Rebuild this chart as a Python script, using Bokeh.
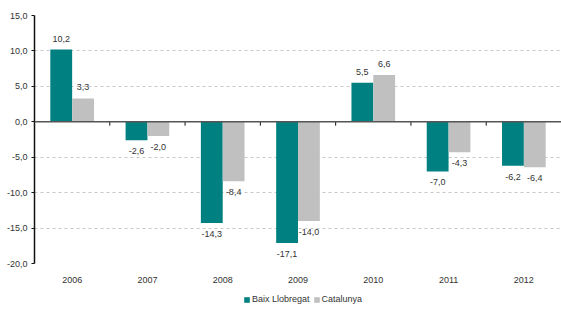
from bokeh.plotting import figure
from bokeh.layouts import column
from bokeh.core.properties import value
from bokeh.models import (ColumnDataSource, FixedTicker, LinearAxis, Legend, LegendItem,
                          Span, Range1d, LabelSet)
from bokeh.embed import file_html
from bokeh.resources import INLINE

years = ["2006", "2007", "2008", "2009", "2010", "2011", "2012"]
baix = [10.2, -2.6, -14.3, -17.1, 5.5, -7.0, -6.2]
catalunya = [3.3, -2.0, -8.4, -14.0, 6.6, -4.3, -6.4]
y_ticks = [-20, -15, -10, -5, 0, 5, 10, 15]
series_names = ["Baix Llobregat", "Catalunya"]

TEAL = "#008080"
GRAY = "#c0c0c0"
FONT = "Liberation Sans"
FS = "9px"
TXT = "#333333"

def fmt(v):
    return ("%.1f" % v).replace(".", ",")

n = len(years)
w = 0.29
centers = [i + 0.5 for i in range(n)]
bounds = list(range(1, n))

src_b = ColumnDataSource(dict(x=[c - w / 2 for c in centers], top=baix,
                              lab=[fmt(v) for v in baix],
                              off=[11 if v >= 0 else -11 for v in baix]))
src_c = ColumnDataSource(dict(x=[c + w / 2 for c in centers], top=catalunya,
                              lab=[fmt(v) for v in catalunya],
                              off=[11 if v >= 0 else -11 for v in catalunya]))

p = figure(width=561, height=289, output_backend="svg", toolbar_location=None,
           x_range=Range1d(0, n), y_range=Range1d(-20, 15),
           x_axis_location=None, y_axis_location=None,
           min_border_left=34, min_border_right=0, min_border_top=15, min_border_bottom=26)
p.outline_line_color = None
p.background_fill_color = "white"

# grid
p.xgrid.visible = False
p.ygrid.ticker = FixedTicker(ticks=y_ticks)
p.ygrid.grid_line_color = "#c8c8c8"
p.ygrid.grid_line_dash = "3 3"
p.ygrid.grid_line_width = 1

rb = p.vbar(x="x", top="top", bottom=0, width=w, source=src_b, fill_color=TEAL, line_color=None)
rc = p.vbar(x="x", top="top", bottom=0, width=w, source=src_c, fill_color=GRAY, line_color=None)

# zero line and category separator ticks
p.add_layout(Span(location=0, dimension="width", line_color="#555555", line_width=1.5))
tick_len = 0.55
p.segment(x0=bounds, x1=bounds, y0=[0] * len(bounds), y1=[-tick_len] * len(bounds),
          line_color="#111111", line_width=1)

for src in (src_b, src_c):
    p.add_layout(LabelSet(x="x", y="top", text="lab", y_offset="off", source=src,
                          text_align="center", text_baseline="middle",
                          text_font=value(FONT), text_font_size=value(FS), text_color=TXT))

# y axis
yax = LinearAxis(ticker=FixedTicker(ticks=y_ticks),
                 major_label_overrides={t: fmt(t) for t in y_ticks})
yax.axis_line_color = "#111111"
yax.axis_line_width = 1.5
yax.major_tick_line_color = "#111111"
yax.major_tick_out = 3
yax.major_tick_in = 0
yax.minor_tick_line_color = None
yax.major_label_text_font = FONT
yax.major_label_text_font_size = FS
yax.major_label_text_color = TXT
yax.major_label_standoff = 4
p.add_layout(yax, "left")

# category labels axis
xax = LinearAxis(ticker=FixedTicker(ticks=centers),
                 major_label_overrides={c: y for c, y in zip(centers, years)})
xax.axis_line_color = None
xax.major_tick_line_color = None
xax.major_tick_out = 0
xax.major_tick_in = 0
xax.minor_tick_line_color = None
xax.major_label_text_font = FONT
xax.major_label_text_font_size = FS
xax.major_label_text_color = TXT
xax.major_label_standoff = 13
p.add_layout(xax, "below")

# legend strip
lg = figure(width=561, height=20, output_backend="svg", toolbar_location=None,
            x_range=Range1d(0, 1), y_range=Range1d(0, 1),
            x_axis_location=None, y_axis_location=None,
            min_border_left=0, min_border_right=0, min_border_top=0, min_border_bottom=0)
lg.outline_line_color = None
lg.xgrid.visible = False
lg.ygrid.visible = False
lb = lg.vbar(x=[-5], top=[-5], bottom=[-6], width=0.1, fill_color=TEAL, line_color=None)
lc = lg.vbar(x=[-5], top=[-5], bottom=[-6], width=0.1, fill_color=GRAY, line_color=None)
legend = Legend(items=[LegendItem(label=series_names[0], renderers=[lb]),
                       LegendItem(label=series_names[1], renderers=[lc])],
                orientation="horizontal", location=(209, 5))
legend.glyph_width = 7
legend.glyph_height = 7
legend.label_text_font = FONT
legend.label_text_font_size = FS
legend.label_text_color = TXT
legend.label_standoff = 2
legend.label_height = 9
legend.spacing = 3
legend.padding = 0
legend.margin = 0
legend.border_line_color = None
legend.background_fill_alpha = 0
lg.add_layout(legend, "center")

layout = column(p, lg, spacing=0)
open("out.html", "w").write(file_html(layout, INLINE))
